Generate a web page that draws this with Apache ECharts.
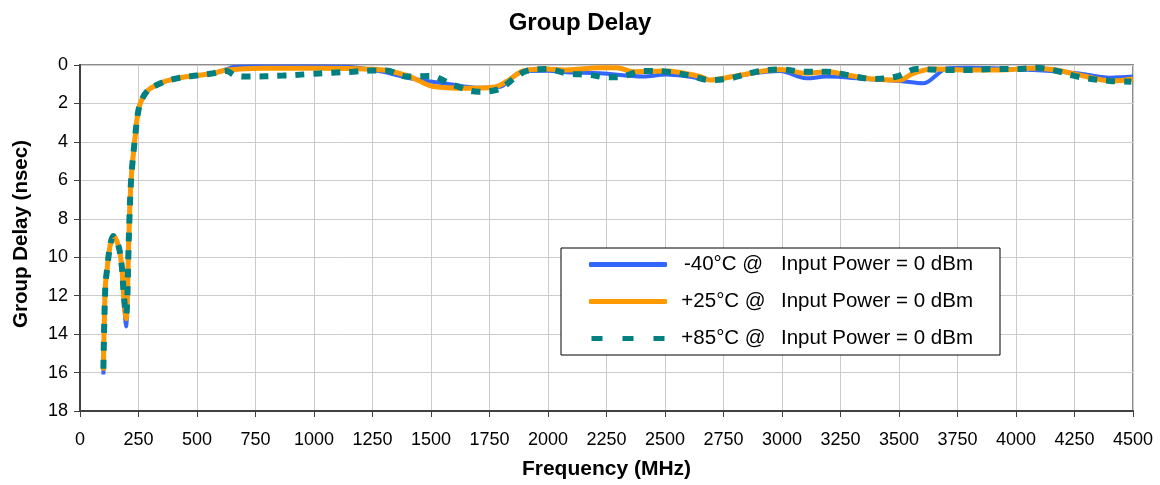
<!DOCTYPE html>
<html>
<head>
<meta charset="utf-8">
<script src="https://cdn.jsdelivr.net/npm/echarts@6/dist/echarts.min.js"></script>
<style>html,body{margin:0;padding:0;background:#fff;}#c{width:1160px;height:485px;}</style>
</head>
<body>
<div id="c"></div>
<script>
// ---- Data (frequency in MHz, group delay in nsec) ----
const xTicks = [0,250,500,750,1000,1250,1500,1750,2000,2250,2500,2750,3000,3250,3500,3750,4000,4250,4500];
const yTicks = [0,2,4,6,8,10,12,14,16,18];

const seriesNames = ['-40°C', '+25°C', '+85°C'];

const freqM40 = [100,108,117,128,142,164,178,185,192,197,202,206,211,216,222,235,249,264,292,328,370,427,499,570,627,654,755,1026,1150,1295,1410,1581,1695,1795,1852,1909,2000,2080,2222,2407,2507,2600,2692,2792,2991,3105,3191,3362,3504,3604,3661,3704,3789,4074,4259,4402,4500];
const delayM40 = [16.1,11.6,10.5,9.45,8.9,9.4,10.4,11.8,13.0,13.6,12.4,10.2,8.1,6.5,5.4,3.8,2.4,1.8,1.3,1.04,0.83,0.66,0.55,0.43,0.22,0.1,0.08,0.08,0.1,0.35,0.69,1.0,1.18,1.13,0.6,0.31,0.3,0.38,0.43,0.6,0.49,0.6,0.78,0.6,0.31,0.69,0.6,0.73,0.83,0.95,0.52,0.17,0.14,0.26,0.43,0.66,0.6];

const freqP25 = [100,108,117,128,142,164,178,185,192,197,202,206,211,216,222,235,249,264,292,328,370,427,499,570,627,783,1026,1295,1410,1509,1652,1765,1823,1894,1980,2080,2222,2293,2364,2507,2650,2692,2792,2991,3105,3191,3291,3390,3504,3561,3647,3789,3932,4074,4174,4259,4415,4500];
const delayP25 = [15.9,11.6,10.5,9.45,8.9,9.4,10.4,11.7,12.8,13.2,12.3,10.2,8.1,6.5,5.4,3.8,2.4,1.8,1.3,1.04,0.83,0.66,0.55,0.43,0.26,0.17,0.17,0.26,0.6,1.12,1.21,1.16,0.86,0.31,0.21,0.26,0.14,0.14,0.35,0.31,0.6,0.78,0.6,0.23,0.43,0.35,0.55,0.73,0.78,0.43,0.21,0.26,0.26,0.17,0.26,0.49,0.83,0.73];

const freqP85 = [100,108,117,128,142,164,178,185,192,197,202,206,211,216,222,235,249,264,292,328,370,427,499,570,627,662,712,869,969,1075,1167,1246,1308,1396,1496,1595,1701,1787,1866,1909,1994,2080,2179,2250,2304,2364,2407,2507,2607,2692,2778,2891,2991,3091,3191,3291,3390,3490,3576,3704,3803,3903,4003,4089,4174,4245,4302,4402,4493];
const delayP85 = [15.8,11.6,10.5,9.45,8.9,9.4,10.4,11.6,12.6,13.0,12.2,10.2,8.1,6.5,5.4,3.8,2.4,1.8,1.3,1.04,0.83,0.66,0.55,0.43,0.31,0.55,0.6,0.55,0.48,0.4,0.35,0.29,0.29,0.6,0.57,1.04,1.39,1.27,0.6,0.31,0.21,0.43,0.52,0.64,0.64,0.43,0.31,0.35,0.55,0.78,0.69,0.35,0.23,0.35,0.35,0.55,0.73,0.6,0.21,0.26,0.26,0.21,0.21,0.14,0.31,0.55,0.69,0.83,0.87];

function pairs(xs, ys){ return xs.map((x,i)=>[x, ys[i]]); }

const FONT = "'Liberation Sans', Arial, sans-serif";
const DASH_ICON = 'path://M0,0h11v5h-11z M31,0h11v5h-11z M62,0h11v5h-11z';
const chart = echarts.init(document.getElementById('c'), null, {renderer:'canvas'});

chart.setOption({
  animation: false,
  backgroundColor: '#ffffff',
  title: {
    text: 'Group Delay', left: 'center', top: 6,
    textStyle: {fontFamily: FONT, fontSize: 24, fontWeight: 'bold', color: '#000'}
  },
  grid: {left: 80, right: 27, top: 65, bottom: 74, show: true, borderColor: '#8c8c8c', borderWidth: 2, backgroundColor: '#fff'},
  xAxis: {
    type: 'value', min: 0, max: 4500, interval: 250,
    name: 'Frequency (MHz)', nameLocation: 'middle', nameGap: 48,
    nameTextStyle: {fontFamily: FONT, fontSize: 21, fontWeight: 'bold', color: '#000'},
    axisLine: {show: true, onZero: false, lineStyle: {color: '#404040', width: 2}},
    axisTick: {show: true, length: 6, lineStyle: {color: '#404040', width: 1}},
    axisLabel: {fontFamily: FONT, fontSize: 18, color: '#000', margin: 20,
      formatter: v => xTicks.includes(v) ? String(v) : ''},
    splitLine: {show: true, lineStyle: {color: '#cccccc', width: 1}}
  },
  yAxis: {
    type: 'value', min: 0, max: 18, interval: 2, inverse: true,
    name: 'Group Delay (nsec)', nameLocation: 'middle', nameGap: 48,
    nameTextStyle: {fontFamily: FONT, fontSize: 20.5, fontWeight: 'bold', color: '#000', padding: [0,0,0,8]},
    axisLine: {show: true, onZero: false, lineStyle: {color: '#404040', width: 2}},
    axisTick: {show: true, length: 6, lineStyle: {color: '#404040', width: 1}},
    axisLabel: {fontFamily: FONT, fontSize: 18, color: '#000', margin: 12,
      formatter: v => yTicks.includes(v) ? String(v) : ''},
    splitLine: {show: true, lineStyle: {color: '#cccccc', width: 1}}
  },
  legend: {
    show: true,
    orient: 'vertical', left: 561, top: 248,
    backgroundColor: '#ffffff', borderColor: '#000000', borderWidth: 1,
    padding: [6, 27, 6, 28], itemGap: 16, itemWidth: 78, itemHeight: 5,
    textStyle: {fontFamily: FONT, fontSize: 20.5, color: '#000',
      rich: {
        a: {fontFamily: FONT, fontSize: 20.5, color: '#000', width: 103, align: 'right'},
        b: {fontFamily: FONT, fontSize: 20.5, color: '#000', padding: [0,0,0,6]}
      }},
    formatter: function (name) { return '{a|' + name + ' @}{b|Input Power = 0 dBm}'; },
    data: [
      {name: seriesNames[0], icon: 'roundRect'},
      {name: seriesNames[1], icon: 'roundRect'},
      {name: seriesNames[2], icon: DASH_ICON}
    ]
  },
  series: [
    {name: seriesNames[0], type: 'line', data: pairs(freqM40, delayM40), smooth: 0.35, symbol: 'none',
      lineStyle: {color: '#3366ff', width: 4}, itemStyle: {color: '#3366ff'}, z: 2},
    {name: seriesNames[1], type: 'line', data: pairs(freqP25, delayP25), smooth: 0.35, symbol: 'none',
      lineStyle: {color: '#ff9900', width: 5}, itemStyle: {color: '#ff9900'}, z: 3},
    {name: seriesNames[2], type: 'line', data: pairs(freqP85, delayP85), smooth: 0.35, symbol: 'none',
      lineStyle: {color: '#008080', width: 6, type: [9, 9], cap: 'butt'}, itemStyle: {color: '#008080'}, z: 4}
  ]
});
</script>
</body>
</html>
